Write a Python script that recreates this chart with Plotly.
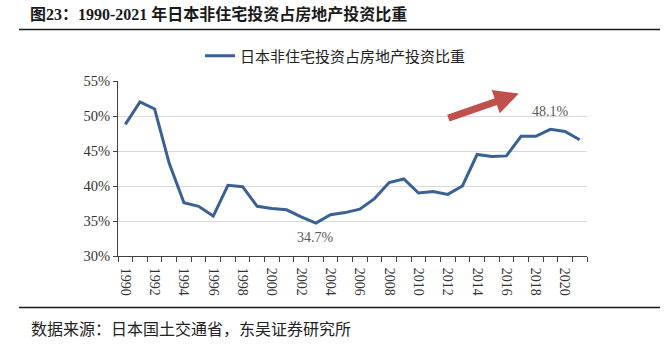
import plotly.graph_objects as go

years = list(range(1990, 2022))
share = [48.8, 52.0, 51.0, 43.2, 37.6, 37.1, 35.7, 40.1, 39.9, 37.1,
         36.8, 36.6, 35.6, 34.7, 35.9, 36.2, 36.7, 38.2, 40.5, 41.0,
         39.0, 39.2, 38.8, 40.0, 44.5, 44.2, 44.3, 47.1, 47.1, 48.1,
         47.8, 46.6]
series_name = "日本非住宅投资占房地产投资比重"
title_text = "图23：1990-2021 年日本非住宅投资占房地产投资比重"
source_text = "数据来源：日本国土交通省，东吴证券研究所"
ytick_vals = [30, 35, 40, 45, 50, 55]
ytick_text = [f"{v}%" for v in ytick_vals]
xtick_vals = [y for y in years if y % 2 == 0]
min_label = "34.7%"
max_label = "48.1%"

SERIF = "Liberation Serif, Noto Sans CJK SC, serif"
CJK = "Noto Sans CJK SC, sans-serif"

fig = go.Figure()
fig.add_trace(go.Scatter(
    x=years, y=share, mode="lines", name=series_name,
    line=dict(color="#3A6193", width=3),
))

W, H = 665, 348
L, R, T, B = 118, 78, 81, 92
pw, ph = W - L - R, H - T - B

def px_x(p):
    return (p - L) / pw

def px_y(p):
    return (H - B - p) / ph

fig.update_layout(
    width=W, height=H,
    margin=dict(l=L, r=R, t=T, b=B),
    paper_bgcolor="white", plot_bgcolor="white",
    showlegend=True,
    legend=dict(
        orientation="h", x=px_x(200), y=px_y(56), xanchor="left", yanchor="middle",
        font=dict(family=CJK, size=15, color="#222222"),
        bgcolor="rgba(0,0,0,0)",
    ),
    xaxis=dict(
        range=[1989.5, 2021.5],
        tickvals=xtick_vals,
        ticktext=[str(v) for v in xtick_vals],
        tickangle=90,
        ticks="",
        ticklabelstandoff=8,
        showgrid=False, zeroline=False,
        showline=True, linecolor="#404040", linewidth=1,
        tickfont=dict(family=SERIF, size=14, color="#333333"),
        minor=dict(dtick=1, tick0=1989.5, ticks="outside", ticklen=5,
                   tickcolor="#404040", showgrid=False),
    ),
    yaxis=dict(
        range=[30, 55],
        tickvals=ytick_vals, ticktext=ytick_text,
        ticks="outside", ticklen=4, tickcolor="#404040",
        showgrid=True, gridcolor="#D9D9D9", gridwidth=1,
        zeroline=False,
        showline=True, linecolor="#404040", linewidth=1,
        tickfont=dict(family=SERIF, size=14.5, color="#333333"),
    ),
)

annotations = [
    dict(text=f"<b>{title_text}</b>", xref="paper", yref="paper",
         x=px_x(28), y=px_y(14), xanchor="left", yanchor="middle",
         showarrow=False, font=dict(family=SERIF, size=16, color="#1a1a1a")),
    dict(text=source_text, xref="paper", yref="paper",
         x=px_x(29), y=px_y(328), xanchor="left", yanchor="middle",
         showarrow=False, font=dict(family=CJK, size=16, color="#222222")),
    dict(text=min_label, x=2003, y=share[years.index(2003)],
         xanchor="center", yanchor="middle", yshift=-14, xshift=0,
         showarrow=False, font=dict(family=SERIF, size=14, color="#595959")),
    dict(text=max_label, x=2019, y=share[years.index(2019)],
         xanchor="center", yanchor="middle", yshift=18, xshift=0,
         showarrow=False, font=dict(family=SERIF, size=14, color="#595959")),
    dict(text="", x=2016.85, y=53.2, ax=-72, ay=25, axref="pixel", ayref="pixel",
         showarrow=True, arrowhead=2, arrowsize=0.7, arrowwidth=7,
         arrowcolor="#C0504D"),
]
fig.update_layout(annotations=annotations)

shapes = [
    dict(type="line", xref="paper", yref="paper",
         x0=px_x(19), x1=px_x(660), y0=px_y(29.5), y1=px_y(29.5),
         line=dict(color="#1a1a1a", width=1.6)),
    dict(type="line", xref="paper", yref="paper",
         x0=px_x(19), x1=px_x(660), y0=px_y(307.5), y1=px_y(307.5),
         line=dict(color="#1a1a1a", width=1.6)),
]
fig.update_layout(shapes=shapes)

fig.write_html("out.html")
